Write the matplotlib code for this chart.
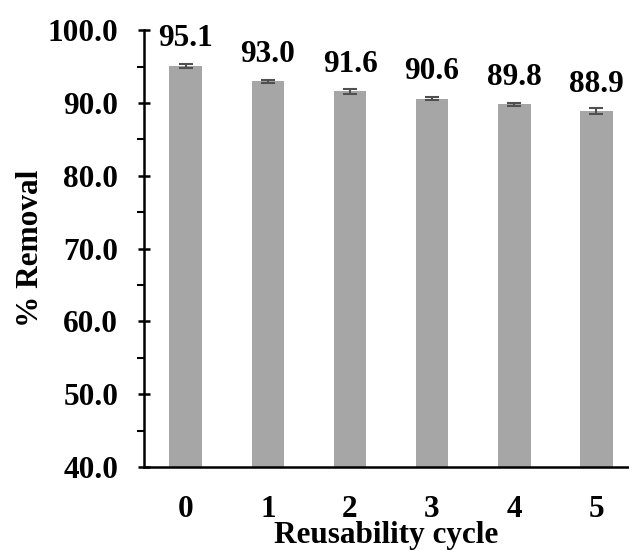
import numpy as np
import matplotlib.pyplot as plt
from matplotlib.ticker import MultipleLocator

cycles = ["0", "1", "2", "3", "4", "5"]
removal = [95.1, 93.0, 91.6, 90.6, 89.8, 88.9]
errors = [0.3, 0.2, 0.3, 0.2, 0.2, 0.4]

plt.rcParams["font.family"] = "Liberation Serif"
plt.rcParams["font.weight"] = "bold"

fig = plt.figure(figsize=(6.29, 5.5), dpi=100)
ax = fig.add_axes([0.229, 0.151, 0.771, 0.794])

x = np.arange(len(cycles))
ax.bar(x, removal, width=0.4, color="#a6a6a6",
       yerr=errors, ecolor="#505050", capsize=5,
       error_kw={"elinewidth": 1.5, "capthick": 1.5})

for xi, v in zip(x, removal):
    ax.annotate(f"{v:.1f}", (xi, v), xytext=(0, 9), textcoords="offset points",
                ha="center", va="bottom", fontsize=22.5, fontweight="bold",
                annotation_clip=False)

ax.set_ylim(40, 100)
ax.set_xlim(-0.51, 5.4)
ax.yaxis.set_major_locator(MultipleLocator(10))
ax.yaxis.set_minor_locator(MultipleLocator(5))
ax.set_yticklabels([f"{t:.1f}" for t in ax.get_yticks()])
ax.set_xticks(x)
ax.set_xticklabels(cycles)

for s in ["top", "right"]:
    ax.spines[s].set_visible(False)
for s in ["left", "bottom"]:
    ax.spines[s].set_linewidth(1.8)

ax.tick_params(axis="y", which="major", direction="inout", length=9, width=1.8,
               labelsize=22.5, pad=14)
ax.tick_params(axis="y", which="minor", direction="out", length=5, width=1.5)
ax.tick_params(axis="x", length=0, labelsize=22.5, pad=20)

ax.set_xlabel("Reusability cycle", fontsize=22.5, fontweight="bold", labelpad=-2)
ax.set_ylabel("% Removal", fontsize=22.5, fontweight="bold", labelpad=2)

fig.savefig("out.png", dpi=100)
